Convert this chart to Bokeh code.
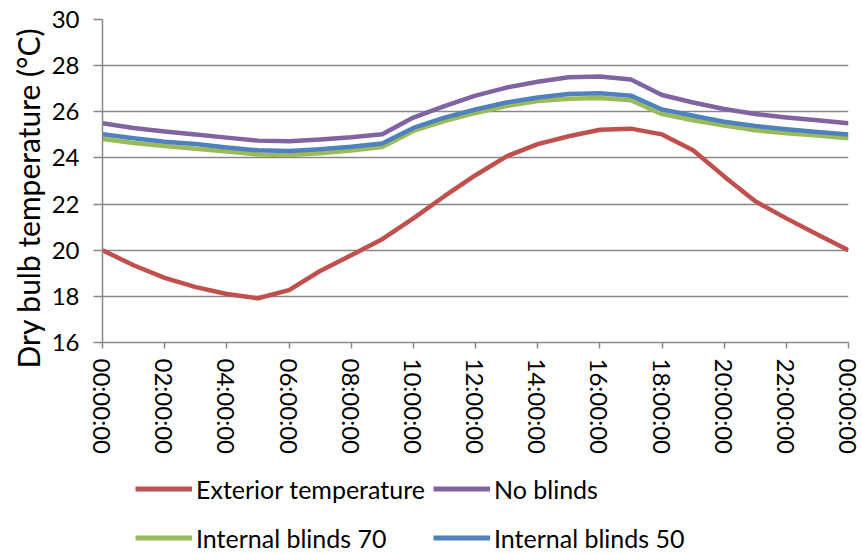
from bokeh.plotting import figure
from bokeh.layouts import column
from bokeh.models import Legend, LegendItem, FixedTicker, Range1d, Title
from bokeh.embed import file_html
from bokeh.resources import INLINE

# Hourly dry bulb temperatures over one day (°C)
hours = list(range(25))
exterior = [20.0, 19.35, 18.8, 18.4, 18.1, 17.92, 18.27, 19.1, 19.78, 20.48,
            21.38, 22.34, 23.25, 24.07, 24.6, 24.94, 25.22, 25.27, 25.02, 24.33,
            23.2, 22.12, 21.38, 20.68, 20.0]
no_blinds = [25.5, 25.3, 25.15, 25.02, 24.88, 24.75, 24.72, 24.8, 24.9, 25.03,
             25.75, 26.25, 26.7, 27.05, 27.3, 27.5, 27.53, 27.4, 26.73, 26.4,
             26.12, 25.9, 25.75, 25.63, 25.5]
blinds_70 = [24.82, 24.65, 24.52, 24.4, 24.28, 24.15, 24.13, 24.2, 24.32, 24.47,
             25.17, 25.6, 25.95, 26.25, 26.47, 26.57, 26.6, 26.5, 25.9, 25.63,
             25.4, 25.2, 25.07, 24.97, 24.85]
blinds_50 = [25.03, 24.85, 24.7, 24.6, 24.45, 24.33, 24.3, 24.38, 24.48, 24.63,
             25.3, 25.75, 26.1, 26.4, 26.62, 26.77, 26.8, 26.7, 26.1, 25.83,
             25.57, 25.38, 25.24, 25.12, 25.02]

series_names = ["Exterior temperature", "No blinds", "Internal blinds 70", "Internal blinds 50"]
series_colors = ["#C0504D", "#8064A2", "#9BBB59", "#4F81BD"]
series_values = [exterior, no_blinds, blinds_70, blinds_50]

tick_hours = list(range(0, 25, 2))
tick_labels = ["00:00:00", "02:00:00", "04:00:00", "06:00:00", "08:00:00", "10:00:00",
               "12:00:00", "14:00:00", "16:00:00", "18:00:00", "20:00:00", "22:00:00",
               "00:00:00"]
y_ticks = [16, 18, 20, 22, 24, 26, 28, 30]

FONT = "Lato"
GRID = "#878787"
LINE_W = 4.5

# Main chart
p = figure(width=862, height=457, output_backend="svg", toolbar_location=None,
           x_range=Range1d(0, 24), y_range=Range1d(16, 30),
           min_border_left=102, min_border_right=14, min_border_top=19,
           min_border_bottom=115)
p.outline_line_color = None
p.border_fill_color = "white"

p.xgrid.grid_line_color = None
p.ygrid.grid_line_color = GRID
p.ygrid.grid_line_width = 1.5

p.yaxis.ticker = FixedTicker(ticks=y_ticks)
p.xaxis.ticker = FixedTicker(ticks=tick_hours)
p.xaxis.major_label_overrides = {h: lab for h, lab in zip(tick_hours, tick_labels)}
p.xaxis.major_label_orientation = -1.5707963

for ax in (p.xaxis, p.yaxis):
    ax.axis_line_color = GRID
    ax.axis_line_width = 1.5
    ax.major_tick_line_color = GRID
    ax.major_tick_line_width = 1.5
    ax.minor_tick_line_color = None
    ax.major_tick_in = 0
    ax.major_label_text_font = FONT
    ax.major_label_text_font_size = "24px"
    ax.major_label_text_color = "black"

p.yaxis.major_tick_out = 9
p.yaxis.major_label_standoff = 14
p.xaxis.major_tick_out = 6
p.xaxis.major_label_standoff = 10

# Vertical axis title, starting a little below the frame's bottom edge
p.add_layout(Title(text="Dry bulb temperature (°C)", align="left", offset=-26,
                   text_font=FONT, text_font_size="30px", text_font_style="normal",
                   text_color="black", standoff=6), "left")

for ys, color in zip(series_values, series_colors):
    p.line(hours, ys, line_color=color, line_width=LINE_W, line_join="round")

# Legend strip underneath, two entries per row; its lines sit outside the visible range
lg = figure(width=862, height=97, output_backend="svg", toolbar_location=None,
            x_axis_type=None, y_axis_type=None, min_border=0,
            x_range=Range1d(100, 101), y_range=Range1d(100, 101))
lg.outline_line_color = None
lg.border_fill_color = "white"

keys = [lg.line(hours, ys, line_color=c, line_width=5)
        for ys, c in zip(series_values, series_colors)]
legend = Legend(items=[LegendItem(label=n, renderers=[r]) for n, r in zip(series_names, keys)],
                orientation="horizontal", ncols=2,
                location=(33, -4),
                glyph_width=57, glyph_height=41, label_height=41, label_width=220,
                label_standoff=4, spacing=8, padding=0, margin=0,
                label_text_font=FONT, label_text_font_size="25px",
                label_text_color="black",
                border_line_color=None, background_fill_alpha=0)
lg.add_layout(legend, "center")

open("out.html", "w").write(file_html(column(p, lg, spacing=0), INLINE))
